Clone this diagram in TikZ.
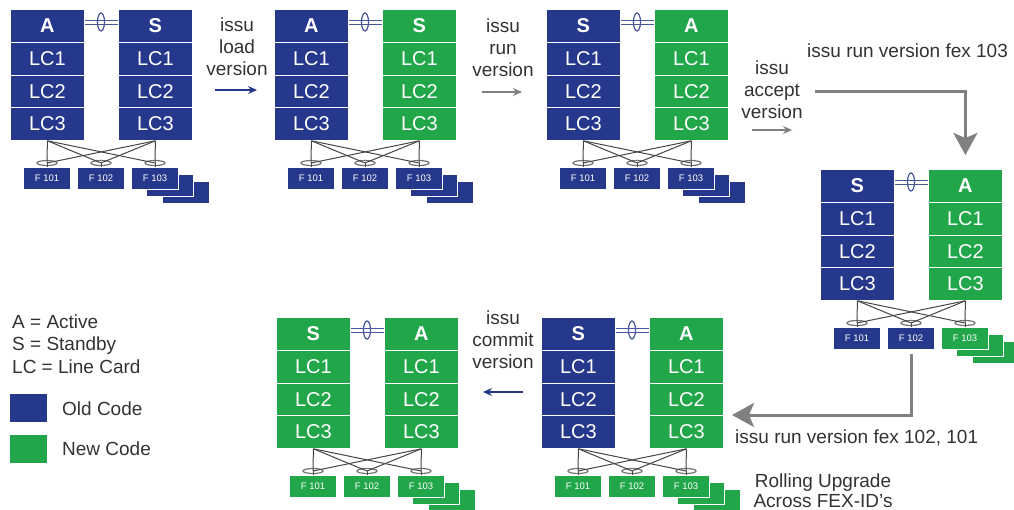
\documentclass[tikz,border=0pt]{standalone}
\usepackage{fontspec}
\setmainfont{Liberation Sans}
\usetikzlibrary{arrows.meta,shapes.geometric}

\definecolor{oldblue}{RGB}{38,56,140}
\definecolor{newgreen}{RGB}{33,166,74}
\definecolor{txt}{RGB}{51,51,51}
\definecolor{arrowgray}{RGB}{128,128,128}
\definecolor{wire}{RGB}{70,70,70}

\tikzset{
  card/.style={minimum width=74pt, minimum height=32.75pt, inner sep=0pt,
    draw=white, line width=0.8pt, text=white,
    font=\fontsize{20}{24}\selectfont, anchor=north west},
  supcard/.style={card, font=\fontsize{20}{24}\selectfont\bfseries},
  fex/.style={minimum width=47pt, minimum height=22pt, inner sep=0pt,
    draw=white, line width=0.6pt, text=white,
    font=\fontsize{9.5}{11}\selectfont},
  uplink/.style={draw=oldblue!85, line width=1.3pt},
  linkring/.style={ellipse, draw=oldblue!85, line width=1.2pt,
    minimum width=7pt, minimum height=18pt, inner sep=0pt},
  wireline/.style={draw=wire, line width=1pt},
  fexring/.style={ellipse, draw=wire!75, line width=1.2pt,
    minimum width=20pt, minimum height=5pt, inner sep=0pt},
  steptext/.style={align=center, text=txt, font=\fontsize{19}{22}\selectfont, inner sep=0pt},
  plaintext/.style={text=txt, font=\fontsize{19}{22}\selectfont, inner sep=0pt},
  smallblue/.style={draw=oldblue, line width=1.2pt, -{Stealth[length=9pt,width=8pt]}},
  smallgray/.style={draw=arrowgray, line width=1.2pt, -{Stealth[length=9pt,width=8pt]}},
  bigarrow/.style={draw=arrowgray, line width=3pt, -{Stealth[length=22pt,width=24pt,inset=5pt]}},
  swatch/.style={minimum width=37pt, minimum height=28pt, inner sep=0pt, anchor=north west},
}

% A redundant supervisor pair with three line cards each and three FEX units
% #1 name prefix, #2 #3 top-left corner, #4 #5 left colour/letter,
% #6 #7 right colour/letter, #8 colour of F101/F102, #9 colour of F103 stack
\newcommand\issupair[9]{%
  \begin{scope}[shift={(#2,#3)}]
    \node[supcard, fill=#4] (#1-l0) at (0,0) {#5};
    \node[card, fill=#4] (#1-l1) at (0,32.75) {LC1};
    \node[card, fill=#4] (#1-l2) at (0,65.5) {LC2};
    \node[card, fill=#4] (#1-l3) at (0,98.25) {LC3};
    \node[supcard, fill=#6] (#1-r0) at (108,0) {#7};
    \node[card, fill=#6] (#1-r1) at (108,32.75) {LC1};
    \node[card, fill=#6] (#1-r2) at (108,65.5) {LC2};
    \node[card, fill=#6] (#1-r3) at (108,98.25) {LC3};
    % supervisor interconnect
    \draw[uplink] ([yshift=5.6pt]#1-l0.east) -- ([yshift=5.6pt]#1-r0.west);
    \draw[uplink] ([yshift=1.2pt]#1-l0.east) -- ([yshift=1.2pt]#1-r0.west);
    \node[linkring] (#1-ring) at (91,13) {};
    % fabric extenders
    \node[fex, fill=#9] (#1-f3c) at (176,183) {};
    \node[fex, fill=#9] (#1-f3b) at (160,176) {};
    \node[fex, fill=#8] (#1-f1) at (37,169) {F 101};
    \node[fex, fill=#8] (#1-f2) at (91,169) {F 102};
    \node[fex, fill=#9] (#1-f3) at (145,169) {F 103};
    \node[fexring] (#1-h1) at (37,154) {};
    \node[fexring] (#1-h2) at (91,154) {};
    \node[fexring] (#1-h3) at (145,154) {};
    \foreach \k in {1,2,3}{%
      \draw[wireline] (#1-l3.south) -- (#1-h\k.center);
      \draw[wireline] (#1-r3.south) -- (#1-h\k.center);
    }
    \draw[wireline] (#1-h1.center) -- (#1-f1.north);
    \draw[wireline] (#1-h2.center) -- (#1-f2.north);
    \draw[wireline] (#1-h3.center) -- (#1-f3.north);
  \end{scope}%
}

\begin{document}
\begin{tikzpicture}[x=1pt,y=-1pt]
  \fill[white] (0,0) rectangle (1014,509);
  \useasboundingbox (0,0) rectangle (1014,509);

  % the six stages of the upgrade
  \issupair{u1}{10}{9}{oldblue}{A}{oldblue}{S}{oldblue}{oldblue}
  \issupair{u2}{274}{9}{oldblue}{A}{newgreen}{S}{oldblue}{oldblue}
  \issupair{u3}{546}{9}{oldblue}{S}{newgreen}{A}{oldblue}{oldblue}
  \issupair{u4}{820}{169}{oldblue}{S}{newgreen}{A}{oldblue}{newgreen}
  \issupair{u5}{541}{317}{oldblue}{S}{newgreen}{A}{newgreen}{newgreen}
  \issupair{u6}{276}{317}{newgreen}{S}{newgreen}{A}{newgreen}{newgreen}

  % step commands
  \node[steptext] (t1) at (237,47) {issu\\load\\version};
  \coordinate (a1s) at (215,90);
  \coordinate (a1e) at (257,90);
  \draw[smallblue] (a1s) -- (a1e);

  \node[steptext] (t2) at (503,48) {issu\\run\\version};
  \coordinate (a2s) at (482,92);
  \coordinate (a2e) at (522,92);
  \draw[smallgray] (a2s) -- (a2e);

  \node[steptext] (t3) at (772,90) {issu\\accept\\version};
  \coordinate (a3s) at (752,130);
  \coordinate (a3e) at (792,130);
  \draw[smallgray] (a3s) -- (a3e);

  \node[steptext] (t4) at (503,340) {issu\\commit\\version};
  \coordinate (a4s) at (523,392);
  \coordinate (a4e) at (483,392);
  \draw[smallblue] (a4s) -- (a4e);

  % FEX rolling upgrade
  \node[plaintext, anchor=base west] (t5) at (807,57) {issu run version fex 103};
  \coordinate (b1s) at (815,91);
  \draw[bigarrow] (b1s) -| ([yshift=14pt]u4-r0.north);

  \node[plaintext, anchor=base west] (t6) at (735,443) {issu run version fex 102, 101};
  \coordinate (b2e) at (732,415);
  \draw[bigarrow] ([yshift=-5pt]u4-f2.south) |- (b2e);

  \node[plaintext, anchor=base] (t7) at (823,487) {Rolling Upgrade};
  \node[plaintext, anchor=base] (t8) at (823,507) {Across FEX-ID’s};

  % legend
  \node[plaintext, anchor=base west] (k1) at (12,328) {A = Active};
  \node[plaintext, anchor=base west] (k2) at (12,350) {S = Standby};
  \node[plaintext, anchor=base west] (k3) at (12,373) {LC = Line Card};
  \node[swatch, fill=oldblue] (k4) at (10,394) {};
  \node[swatch, fill=newgreen] (k5) at (10,435) {};
  \node[plaintext, anchor=base west] (k6) at (62,415) {Old Code};
  \node[plaintext, anchor=base west] (k7) at (62,455) {New Code};
\end{tikzpicture}
\end{document}
